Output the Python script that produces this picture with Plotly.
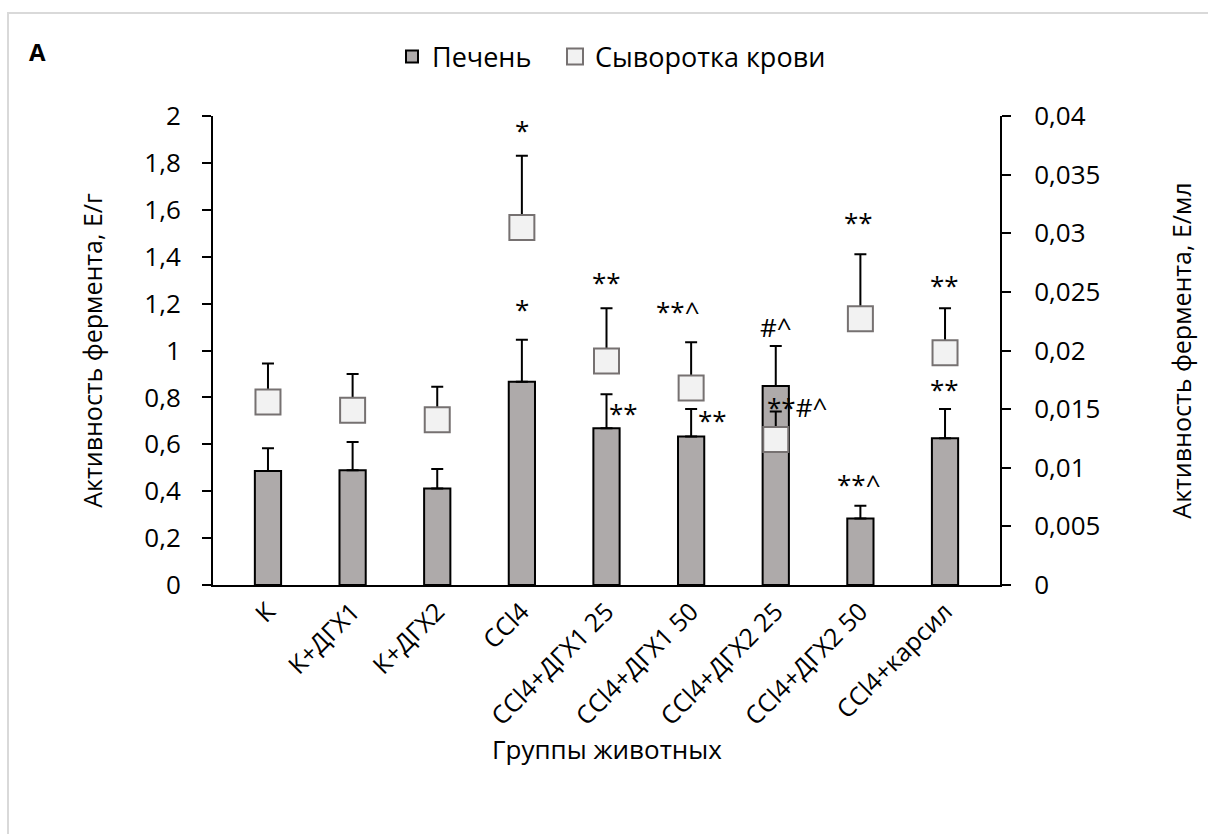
import plotly.graph_objects as go

# Animal groups and measured enzyme activity
groups = ["К", "К+ДГХ1", "К+ДГХ2", "CCl4", "CCl4+ДГХ1 25", "CCl4+ДГХ1 50",
          "CCl4+ДГХ2 25", "CCl4+ДГХ2 50", "CCl4+карсил"]

liver = [0.486, 0.489, 0.412, 0.867, 0.668, 0.633, 0.849, 0.284, 0.626]        # Е/г
liver_err = [0.097, 0.121, 0.083, 0.179, 0.145, 0.118, 0.170, 0.054, 0.125]

serum = [0.0156, 0.0149, 0.0141, 0.0305, 0.0191, 0.0168, 0.0124, 0.0227, 0.0198]  # Е/мл
serum_err = [0.0033, 0.0031, 0.0028, 0.0061, 0.0045, 0.0039, 0.0024, 0.0055, 0.0038]

# Significance marks: (group index, series, text)
marks = [
    (3, "serum", "*"), (3, "liver", "*"),
    (4, "serum", "**"), (4, "liver", "**"),
    (5, "serum", "**^"), (5, "liver", "**"),
    (6, "liver", "#^"), (6, "serum", "**#^"),
    (7, "serum", "**"), (7, "liver", "**^"),
    (8, "serum", "**"), (8, "liver", "**"),
]
# pixel offsets of each mark relative to its error-bar tip
mark_offsets = [
    (0, 26), (0, 31),
    (0, 26), (17, -19),
    (-13, 31), (21, -11),
    (0, 19), (21, 4),
    (-2, 32), (-1, 22),
    (-1, 23), (-1, 20),
]

left_ticks = [0, 0.2, 0.4, 0.6, 0.8, 1, 1.2, 1.4, 1.6, 1.8, 2]
right_ticks = [0, 0.005, 0.01, 0.015, 0.02, 0.025, 0.03, 0.035, 0.04]

FONT = "Open Sans"
W, H = 1208, 834
L, R, T, B = 213, 208, 116, 249


def px_x(px):
    return (px - L) / (W - L - R)


def px_y(py):
    return (H - B - py) / (H - T - B)


fig = go.Figure()

fig.add_trace(go.Bar(
    x=groups, y=liver, name="Печень", width=0.31, legend="legend",
    marker=dict(color="#aeaaaa", line=dict(color="#000000", width=2)),
    error_y=dict(type="data", array=liver_err, arrayminus=[0] * len(liver_err),
                 symmetric=False, color="#000000", thickness=2, width=6),
    yaxis="y",
))

fig.add_trace(go.Scatter(
    x=groups, y=serum, name="Сыворотка крови", mode="markers", legend="legend2",
    marker=dict(symbol="square", size=25, color="#f2f2f2",
                line=dict(color="#767171", width=2)),
    error_y=dict(type="data", array=serum_err, arrayminus=[0] * len(serum_err),
                 symmetric=False, color="#000000", thickness=2, width=6),
    yaxis="y2",
))

annotations = []
for (i, series, text), (dx, dy) in zip(marks, mark_offsets):
    if series == "liver":
        yv, yref = liver[i] + liver_err[i], "y"
    else:
        yv, yref = serum[i] + serum_err[i], "y2"
    annotations.append(dict(
        x=groups[i], y=yv, xref="x", yref=yref, text=text, showarrow=False,
        xanchor="center", yanchor="middle", xshift=dx, yshift=dy,
        font=dict(family=FONT, size=26, color="#000000"),
    ))

# panel letter
annotations.append(dict(
    x=px_x(37), y=px_y(52), xref="paper", yref="paper", text="<b>A</b>",
    showarrow=False, xanchor="center", yanchor="middle",
    font=dict(family=FONT, size=24, color="#000000"),
))
# category axis title
annotations.append(dict(
    x=0.5, y=px_y(749), xref="paper", yref="paper", text="Группы животных",
    showarrow=False, xanchor="center", yanchor="middle",
    font=dict(family=FONT, size=26, color="#000000"),
))

legend_style = dict(orientation="h", xanchor="left", yanchor="middle",
                    font=dict(family=FONT, size=27), bgcolor="rgba(0,0,0,0)")

fig.update_layout(
    width=W, height=H,
    margin=dict(l=L, r=R, t=T, b=B),
    paper_bgcolor="#ffffff", plot_bgcolor="#ffffff",
    separators=", ",
    font=dict(family=FONT, size=24, color="#000000"),
    showlegend=True,
    legend=dict(x=px_x(392), y=px_y(57), **legend_style),
    legend2=dict(x=px_x(555), y=px_y(57), **legend_style),
    annotations=annotations,
    xaxis=dict(
        type="category", showline=True, linecolor="#000000", linewidth=2,
        ticks="", tickangle=-45, showgrid=False, zeroline=False,
        tickfont=dict(family=FONT, size=25),
    ),
    yaxis=dict(
        range=[0, 2], tickvals=left_ticks, showline=True, linecolor="#000000",
        linewidth=2, ticks="outside", ticklen=9, tickwidth=2, tickcolor="#000000",
        ticklabelstandoff=16,
        showgrid=False, zeroline=False, tickfont=dict(family=FONT, size=26),
        title=dict(text="Активность фермента, Е/г", font=dict(family=FONT, size=25), standoff=35),
    ),
    yaxis2=dict(
        range=[0, 0.04], tickvals=right_ticks, overlaying="y", side="right",
        showline=True, linecolor="#000000", linewidth=2, ticks="outside",
        ticklen=9, tickwidth=2, tickcolor="#000000", ticklabelstandoff=18,
        showgrid=False, zeroline=False,
        tickfont=dict(family=FONT, size=26),
        title=dict(text="Активность фермента, Е/мл", font=dict(family=FONT, size=25), standoff=74),
    ),
    shapes=[dict(
        type="rect", xref="paper", yref="paper", layer="below",
        x0=px_x(8), x1=px_x(1230), y0=px_y(860), y1=px_y(13),
        line=dict(color="#d9d9d9", width=2), fillcolor="rgba(0,0,0,0)",
    )],
)

fig.write_html("out.html")
